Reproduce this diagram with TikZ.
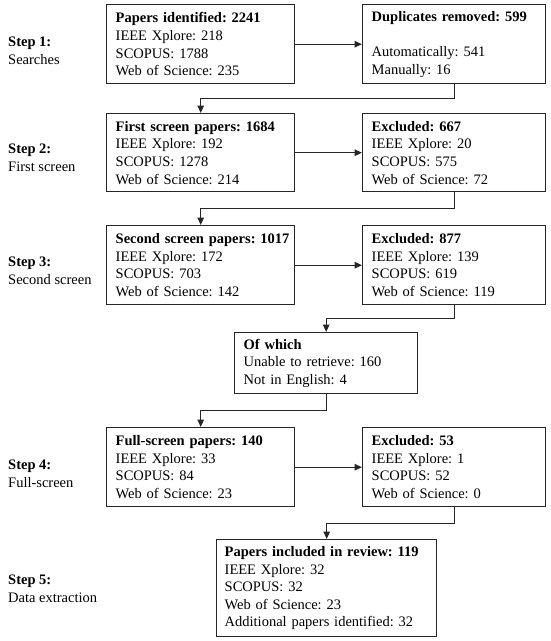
\documentclass[tikz,border=0pt]{standalone}
\usepackage{fontspec}
\setmainfont{Liberation Serif}
\usetikzlibrary{arrows.meta,calc}
\begin{document}
\begin{tikzpicture}[x=1pt,y=-1pt,
  txt/.style={font=\fontsize{14.5}{17.6}\selectfont\frenchspacing},
  box/.style={txt, draw=black!85, line width=1.4pt, anchor=north west, align=left,
    inner xsep=9pt, inner ysep=0pt},
  steplbl/.style={txt, anchor=west, align=left, inner sep=0pt},
  arr/.style={draw=black!85, line width=1.4pt, -{Triangle[length=7.5pt,width=6.5pt]}}]
\useasboundingbox (0,0) rectangle (550,641);

% step labels
\node[steplbl] (S1) at (8,51) {\textbf{Step 1:}\\Searches};
\node[steplbl] (S2) at (8,158) {\textbf{Step 2:}\\First screen};
\node[steplbl] (S3) at (8,271) {\textbf{Step 3:}\\Second screen};
\node[steplbl] (S4) at (8,473.5) {\textbf{Step 4:}\\Full-screen};
\node[steplbl] (S5) at (8,588.5) {\textbf{Step 5:}\\Data extraction};

% left column
\node[box, text width=170pt, minimum height=79pt] (B1) at (106,4)
  {\mbox{\textbf{Papers identified: 2241}}\\IEEE Xplore: 218\\SCOPUS: 1788\\Web of Science: 235};
\node[box, text width=170pt, minimum height=78pt] (B2) at (106,113)
  {\mbox{\textbf{First screen papers: 1684}}\\IEEE Xplore: 192\\SCOPUS: 1278\\Web of Science: 214};
\node[box, text width=170pt, minimum height=79pt] (B3) at (106,225)
  {\mbox{\textbf{Second screen papers: 1017}}\\IEEE Xplore: 172\\SCOPUS: 703\\Web of Science: 142};
\node[box, text width=170pt, minimum height=79pt] (B4) at (106,427)
  {\mbox{\textbf{Full-screen papers: 140}}\\IEEE Xplore: 33\\SCOPUS: 84\\Web of Science: 23};

% right column
\node[box, text width=165pt, minimum height=79pt] (D) at (362,4)
  {\mbox{\textbf{Duplicates removed: 599}}\\[17.6pt]Automatically: 541\\Manually: 16};
\node[box, text width=165pt, minimum height=78pt] (E1) at (362,113)
  {\textbf{Excluded: 667}\\IEEE Xplore: 20\\SCOPUS: 575\\Web of Science: 72};
\node[box, text width=165pt, minimum height=79pt] (E2) at (362,225)
  {\textbf{Excluded: 877}\\IEEE Xplore: 139\\SCOPUS: 619\\Web of Science: 119};
\node[box, text width=165pt, minimum height=79pt] (E3) at (362,427)
  {\textbf{Excluded: 53}\\IEEE Xplore: 1\\SCOPUS: 52\\Web of Science: 0};

% middle boxes
\node[box, text width=165pt, minimum height=61pt] (OW) at (234,332)
  {\textbf{Of which}\\Unable to retrieve: 160\\Not in English: 4};
\node[box, inner xsep=8pt, text width=204pt, minimum height=97pt] (B5) at (216,539)
  {\mbox{\textbf{Papers included in review: 119}}\\IEEE Xplore: 32\\SCOPUS: 32\\Web of Science: 23\\\mbox{Additional papers identified: 32}};

% horizontal arrows
\draw[arr] (B1.east) -- (D.west);
\draw[arr] (B2.east) -- (E1.west);
\draw[arr] (B3.east) -- (E2.west);
\draw[arr] (B4.east) -- (E3.west);

% elbow connectors
\draw[arr] (D.south) |- ($(D.south)!.5!(B2.north)$) -| (B2.north);
\draw[arr] (E1.south) |- ($(E1.south)!.5!(B3.north)$) -| (B3.north);
\draw[arr] (E2.south) |- ($(E2.south)!.5!(OW.north)$) -| (OW.north);
\draw[arr] (OW.south) |- ($(OW.south)!.5!(B4.north)$) -| (B4.north);
\draw[arr] (E3.south) |- ($(E3.south)!.5!(B5.north)$) -| (B5.north);
\end{tikzpicture}
\end{document}
